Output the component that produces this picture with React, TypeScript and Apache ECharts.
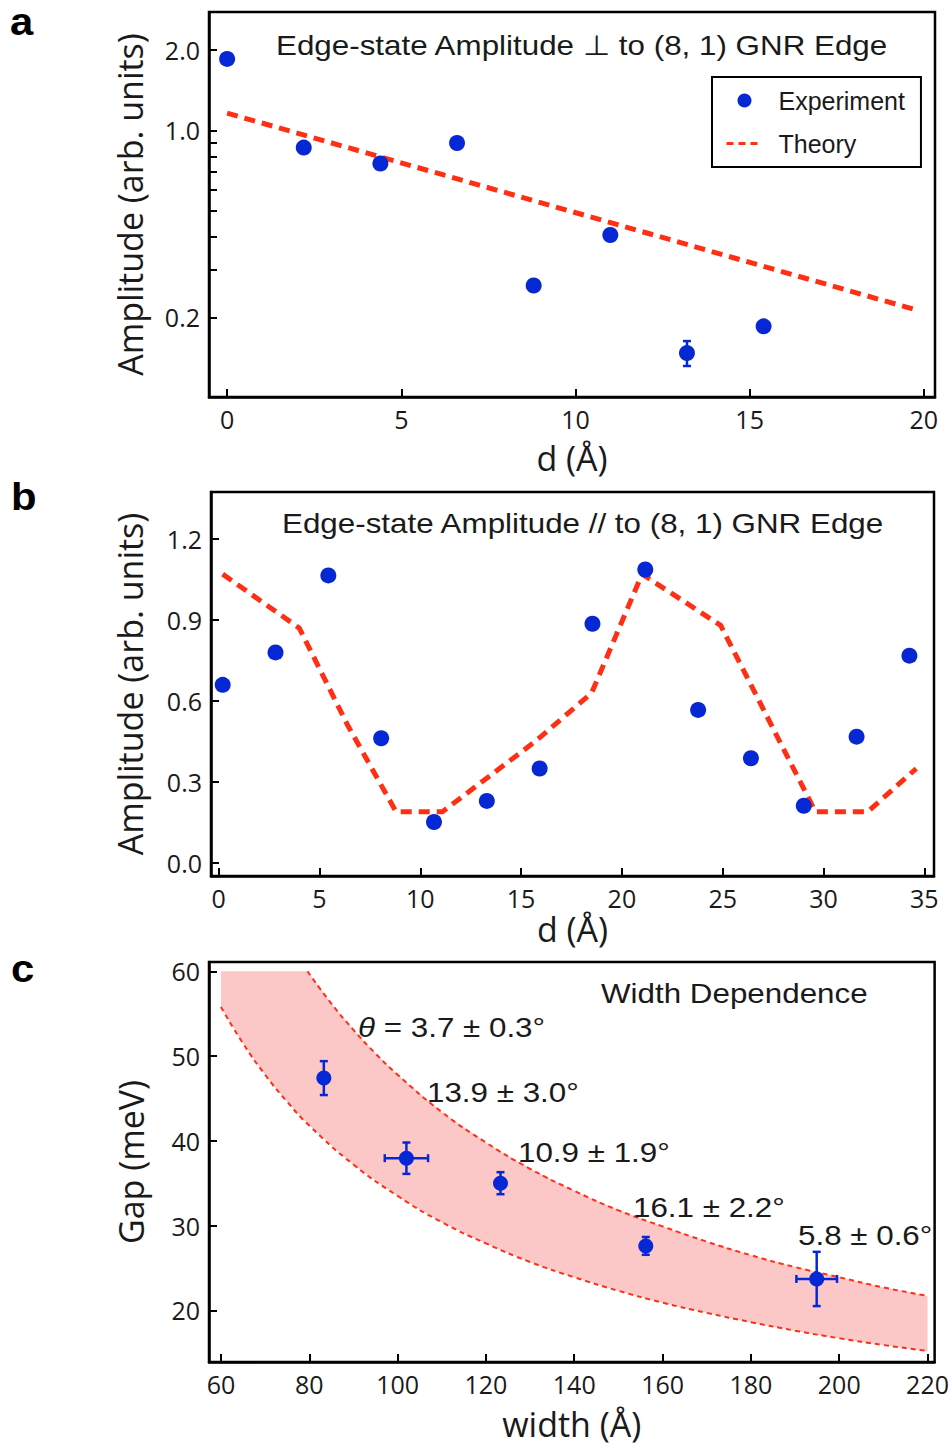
import React, { useEffect, useRef } from 'react';
import * as echarts from 'echarts';

// ---------- Panel a ----------
const aExpD = [0, 2.2, 4.4, 6.6, 8.8, 11.0, 13.2, 15.4];
const aExpAmp = [1.85, 0.862, 0.752, 0.897, 0.263, 0.406, 0.147, 0.185];
const aErrD = [13.2];
const aErrAmp = [0.147];
const aErrLow = [0.1315];
const aErrHigh = [0.163];
const aTheoryD = [0, 19.84];
const aTheoryAmp = [1.16, 0.212];
const aXTicks = [0, 5, 10, 15, 20];
const aYTicks = [0.2, 1.0, 2.0];
const aYTickMarks = [0.2, 0.3, 0.4, 0.5, 0.6, 0.7, 0.8, 0.9, 1.0, 2.0];

// ---------- Panel b ----------
const bExpD = [0.2, 2.82, 5.44, 8.06, 10.68, 13.3, 15.92, 18.54, 21.16, 23.78, 26.4, 29.02, 31.64, 34.26];
const bExpAmp = [0.66, 0.78, 1.065, 0.462, 0.152, 0.23, 0.35, 0.886, 1.087, 0.567, 0.388, 0.212, 0.468, 0.768];
const bTheoryD = [0.2, 4.0, 6.4, 8.8, 11.1, 15.7, 18.5, 21.0, 24.9, 29.6, 32.2, 34.6];
const bTheoryAmp = [1.07, 0.87, 0.51, 0.19, 0.19, 0.45, 0.63, 1.07, 0.88, 0.19, 0.19, 0.35];
const bXTicks = [0, 5, 10, 15, 20, 25, 30, 35];
const bYTicks = [0, 0.3, 0.6, 0.9, 1.2];

// ---------- Panel c ----------
const cWidth = [83.3, 102.0, 123.3, 156.2, 194.9];
const cGap = [47.4, 37.95, 35.0, 27.6, 23.7];
const cGapErr = [2.0, 1.85, 1.3, 1.05, 3.2];
const cWidthErr = [0, 4.9, 0, 0, 4.6];
const cAngleLabels = ['{i|θ} = 3.7 ± 0.3°', '13.9 ± 3.0°', '10.9 ± 1.9°', '16.1 ± 2.2°', '5.8 ± 0.6°'];
const cUpperW = [79.6, 85, 90, 95, 100, 110, 120, 130, 140, 150, 160, 170, 180, 190, 200, 210, 220];
const cUpperGap = [60.0, 56.2, 53.1, 50.3, 47.8, 43.4, 39.8, 36.7, 34.1, 31.8, 29.9, 28.1, 26.5, 25.1, 23.9, 22.7, 21.7];
const cLowerW = [60, 65, 70, 75, 80, 90, 100, 110, 120, 130, 140, 150, 160, 170, 180, 190, 200, 210, 220];
const cLowerGap = [55.8, 51.5, 47.8, 44.6, 41.8, 37.2, 33.5, 30.4, 27.9, 25.7, 23.9, 22.3, 20.9, 19.7, 18.6, 17.6, 16.7, 15.9, 15.2];
const cBandTopLeft = [60, 60];
const cXTicks = [60, 80, 100, 120, 140, 160, 180, 200, 220];
const cYTicks = [20, 30, 40, 50, 60];

const BLUE = '#0628d4';
const RED = '#ff2f14';
const TXT = '#1a1a1a';
const ARIAL = '"Liberation Sans", Arial, sans-serif';
const OPEN = '"Open Sans", "Noto Sans", sans-serif';

const zip = (a: number[], b: number[]) => a.map((v, i) => [v, b[i]]);

function errorBarRender(capHalf: number) {
  return (params: any, api: any) => {
    const x = api.value(0);
    const y = api.value(1);
    const xlo = api.value(2);
    const xhi = api.value(3);
    const ylo = api.value(4);
    const yhi = api.value(5);
    const style = { stroke: BLUE, lineWidth: 2.5 };
    const children: any[] = [];
    const t = api.coord([x, yhi]);
    const b = api.coord([x, ylo]);
    children.push({ type: 'line', shape: { x1: t[0], y1: t[1], x2: b[0], y2: b[1] }, style });
    children.push({ type: 'line', shape: { x1: t[0] - capHalf, y1: t[1], x2: t[0] + capHalf, y2: t[1] }, style });
    children.push({ type: 'line', shape: { x1: b[0] - capHalf, y1: b[1], x2: b[0] + capHalf, y2: b[1] }, style });
    if (xhi > xlo) {
      const l = api.coord([xlo, y]);
      const r = api.coord([xhi, y]);
      children.push({ type: 'line', shape: { x1: l[0], y1: l[1], x2: r[0], y2: r[1] }, style });
      children.push({ type: 'line', shape: { x1: l[0], y1: l[1] - capHalf, x2: l[0], y2: l[1] + capHalf }, style });
      children.push({ type: 'line', shape: { x1: r[0], y1: r[1] - capHalf, x2: r[0], y2: r[1] + capHalf }, style });
    }
    return { type: 'group', children };
  };
}

function bandRender(params: any, api: any) {
  const pts: number[][] = [];
  pts.push(api.coord(cBandTopLeft));
  cUpperW.forEach((w, i) => pts.push(api.coord([w, cUpperGap[i]])));
  for (let i = cLowerW.length - 1; i >= 0; i--) pts.push(api.coord([cLowerW[i], cLowerGap[i]]));
  return { type: 'polygon', shape: { points: pts }, style: { fill: '#fcc7c7' } };
}

function axisBase(name: string, nameGap: number, ticks: number[], fmt?: (v: number) => string, tickMarks?: number[]) {
  return {
    name,
    nameLocation: 'middle',
    nameGap,
    nameTextStyle: { fontSize: 34, fontFamily: OPEN, color: TXT },
    axisLine: { show: true, onZero: false, lineStyle: { color: '#000', width: 2.5 } },
    axisTick: { show: true, inside: true, length: 8, customValues: tickMarks || ticks, lineStyle: { color: '#000', width: 2 } },
    axisLabel: { show: true, customValues: ticks, fontSize: 25, fontFamily: OPEN, color: TXT, margin: 9, formatter: fmt },
    splitLine: { show: false },
    minorTick: { show: false },
  };
}

const fmt1 = (v: number) => Number(v).toFixed(1);

const gridStyle = { show: true, borderColor: '#000', borderWidth: 2.5, containLabel: false };

function titleText(text: string, x: number, y: number, rich?: any) {
  return {
    type: 'text',
    x,
    y,
    scaleX: 1.12,
    style: {
      text,
      fontSize: 28,
      fontFamily: ARIAL,
      fill: TXT,
      align: 'left',
      verticalAlign: 'middle',
      rich,
    },
    z: 100,
  };
}

const annPos = [
  [358, 1027],
  [427, 1092],
  [518, 1152],
  [633, 1207],
  [798, 1235],
];

const option: any = {
  animation: false,
  backgroundColor: '#fff',
  grid: [
    { ...gridStyle, left: 209, top: 12, width: 726, height: 385 },
    { ...gridStyle, left: 211, top: 492, width: 723, height: 384 },
    { ...gridStyle, left: 209, top: 962, width: 733, height: 400 },
  ],
  xAxis: [
    { type: 'value', gridIndex: 0, min: -0.52, max: 20.32, ...axisBase('d (Å)', 44, aXTicks) },
    { type: 'value', gridIndex: 1, min: -0.38, max: 35.48, ...axisBase('d (Å)', 36, bXTicks) },
    { type: 'value', gridIndex: 2, min: 57.3, max: 221.6, ...axisBase('width (Å)', 45, cXTicks) },
  ],
  yAxis: [
    { type: 'log', logBase: 10, gridIndex: 0, min: 0.1007, max: 2.77, ...axisBase('Amplitude (arb. units)', 62, aYTicks, fmt1, aYTickMarks) },
    { type: 'value', gridIndex: 1, min: -0.048, max: 1.374, ...axisBase('Amplitude (arb. units)', 64, bYTicks, fmt1) },
    { type: 'value', gridIndex: 2, min: 13.9, max: 61.1, ...axisBase('Gap (meV)', 61, cYTicks) },
  ],
  legend: {
    orient: 'vertical',
    left: 712,
    top: 77,
    padding: [8, 16, 8, 13],
    itemGap: 12,
    itemWidth: 36,
    itemHeight: 14,
    borderColor: '#000',
    borderWidth: 2,
    borderRadius: 0,
    textStyle: { fontSize: 25, fontFamily: ARIAL, color: TXT, padding: [0, 0, 0, 11], lineHeight: 31 },
    data: [
      { name: 'Experiment', icon: 'circle', itemStyle: { color: BLUE } },
      { name: 'Theory', itemStyle: { opacity: 0 }, lineStyle: { color: RED, width: 3, type: [7, 5] } },
    ],
  },
  graphic: [
    { type: 'text', x: 10, y: 22, scaleX: 1.1, style: { text: 'a', fontSize: 38, fontWeight: 'bold', fontFamily: ARIAL, fill: '#000', verticalAlign: 'middle' } },
    { type: 'text', x: 11, y: 497, scaleX: 1.1, style: { text: 'b', fontSize: 38, fontWeight: 'bold', fontFamily: ARIAL, fill: '#000', verticalAlign: 'middle' } },
    { type: 'text', x: 11, y: 969, scaleX: 1.1, style: { text: 'c', fontSize: 38, fontWeight: 'bold', fontFamily: ARIAL, fill: '#000', verticalAlign: 'middle' } },
    titleText('Edge-state Amplitude ⊥ to (8, 1) GNR Edge', 276, 45),
    titleText('Edge-state Amplitude // to (8, 1) GNR Edge', 282, 523),
    titleText('Width Dependence', 601, 993),
    ...cAngleLabels.map((t, i) =>
      titleText(t, annPos[i][0], annPos[i][1], { i: { fontStyle: 'italic', fontSize: 28, fontFamily: ARIAL, fill: TXT } })
    ),
  ],
  series: [
    {
      name: 'Theory',
      type: 'line',
      xAxisIndex: 0,
      yAxisIndex: 0,
      data: zip(aTheoryD, aTheoryAmp),
      symbol: 'none',
      itemStyle: { color: RED },
      lineStyle: { color: RED, width: 5, type: [11, 7] },
      z: 2,
    },
    {
      name: 'Experiment',
      type: 'scatter',
      xAxisIndex: 0,
      yAxisIndex: 0,
      data: zip(aExpD, aExpAmp),
      symbol: 'circle',
      symbolSize: 16,
      itemStyle: { color: BLUE, opacity: 1 },
      z: 4,
    },
    {
      name: 'a-err',
      type: 'custom',
      xAxisIndex: 0,
      yAxisIndex: 0,
      data: aErrD.map((d, i) => [d, aErrAmp[i], d, d, aErrLow[i], aErrHigh[i]]),
      encode: { x: 0, y: 1 },
      renderItem: errorBarRender(4),
      z: 3,
    },
    {
      name: 'b-theory',
      type: 'line',
      xAxisIndex: 1,
      yAxisIndex: 1,
      data: zip(bTheoryD, bTheoryAmp),
      symbol: 'none',
      lineStyle: { color: RED, width: 5, type: [11, 7] },
      z: 2,
    },
    {
      name: 'b-exp',
      type: 'scatter',
      xAxisIndex: 1,
      yAxisIndex: 1,
      data: zip(bExpD, bExpAmp),
      symbolSize: 16,
      itemStyle: { color: BLUE, opacity: 1 },
      z: 4,
    },
    {
      name: 'c-band',
      type: 'custom',
      xAxisIndex: 2,
      yAxisIndex: 2,
      data: [[cLowerW[0], cLowerGap[0]]],
      encode: { x: 0, y: 1 },
      renderItem: bandRender,
      z: 1,
    },
    {
      name: 'c-upper',
      type: 'line',
      xAxisIndex: 2,
      yAxisIndex: 2,
      data: zip(cUpperW, cUpperGap),
      smooth: true,
      symbol: 'none',
      lineStyle: { color: RED, width: 2, type: [5, 4] },
      z: 2,
    },
    {
      name: 'c-lower',
      type: 'line',
      xAxisIndex: 2,
      yAxisIndex: 2,
      data: zip(cLowerW, cLowerGap),
      smooth: true,
      symbol: 'none',
      lineStyle: { color: RED, width: 2, type: [5, 4] },
      z: 2,
    },
    {
      name: 'c-err',
      type: 'custom',
      xAxisIndex: 2,
      yAxisIndex: 2,
      data: cWidth.map((w, i) => [w, cGap[i], w - cWidthErr[i], w + cWidthErr[i], cGap[i] - cGapErr[i], cGap[i] + cGapErr[i]]),
      encode: { x: 0, y: 1 },
      renderItem: errorBarRender(4),
      z: 3,
    },
    {
      name: 'c-exp',
      type: 'scatter',
      xAxisIndex: 2,
      yAxisIndex: 2,
      data: zip(cWidth, cGap),
      symbolSize: 15,
      itemStyle: { color: BLUE, opacity: 1 },
      z: 4,
    },
  ],
};

export default function App() {
  const ref = useRef<HTMLDivElement>(null);
  useEffect(() => {
    document.body.style.margin = '0';
    const chart = echarts.init(ref.current as HTMLDivElement, null, { renderer: 'svg' });
    chart.setOption(option);
    return () => chart.dispose();
  }, []);
  return <div ref={ref} style={{ width: 952, height: 1449 }} />;
}
